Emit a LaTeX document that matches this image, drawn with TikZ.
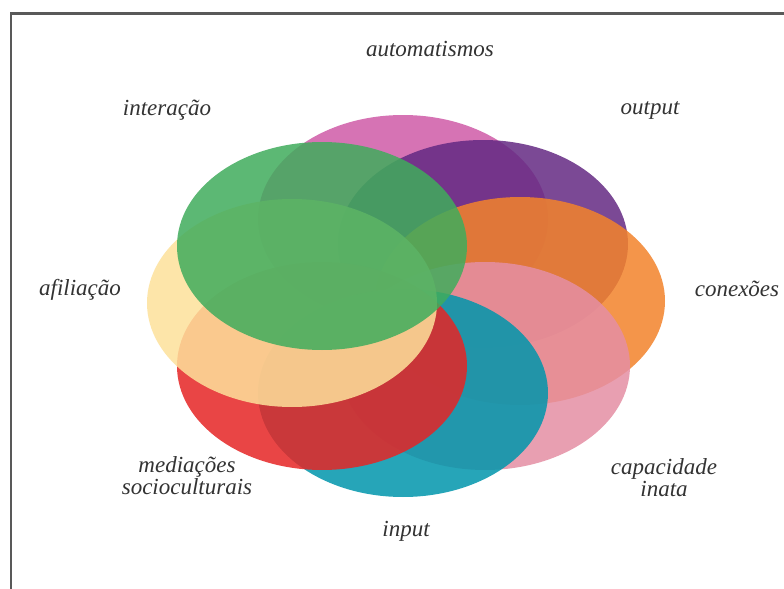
\documentclass[tikz,border=0pt]{standalone}
\usepackage{fontspec}
\setmainfont{Liberation Serif}
\usepackage{tikz}
\usepackage{color}
\usetikzlibrary{shapes.geometric}

\definecolor{cAutom}{RGB}{207,91,167}
\definecolor{cOutput}{RGB}{100,42,131}
\definecolor{cConex}{RGB}{243,131,43}
\definecolor{cCapac}{RGB}{229,143,164}
\definecolor{cInput}{RGB}{0,150,172}
\definecolor{cMediac}{RGB}{230,37,37}
\definecolor{cAfil}{RGB}{253,225,155}
\definecolor{cInter}{RGB}{64,172,92}

\begin{document}
\begin{tikzpicture}[x=0.5pt, y=-0.5pt,
		petal/.style={ellipse, inner sep=0pt, minimum width=145pt, minimum height=104pt, fill opacity=0.85},
		lbl/.style={font=\fontsize{11.5}{11}\selectfont\itshape, text=black!80, align=center}]
				\useasboundingbox (0,0) rectangle (784,589);
				\fill[white] (0,0) rectangle (784,589);
				\draw[line width=1.3pt, black!65] (11,589) -- (11,13.5) -- (784,13.5);
				\node[petal, fill=cAutom] (PAutom)at(403,219) {};
				\node[petal, fill=cOutput] (POutput)at(483,244) {};
				\node[petal, fill=cConex] (PConex)at(520,301) {};
				\node[petal, fill=cCapac] (PCapac)at(485,366) {};
				\node[petal, fill=cInput] (PInput)at(403,393) {};
				\node[petal, fill=cMediac] (PMediac)at(322,366) {};
				\node[petal, fill=cAfil] (PAfil)at(292,303) {};
				\node[petal, fill=cInter] (PInter)at(322,246) {};
				\node[lbl] (TAutom)at(430,49) {automatismos};
				\node[lbl] (TOutput)at(650,110) {output};
				\node[lbl] (TConex)at(737,289) {conexões};
				\node[lbl] (TCapac)at(664,478) {capacidade\\inata};
				\node[lbl] (TInput)at(406,531) {input};
				\node[lbl] (TMediac)at(187,476) {mediações\\socioculturais};
				\node[lbl] (TAfil)at(80,290) {afiliação};
				\node[lbl] (TInter)at(167,110) {interação};
			\end{tikzpicture}
\end{document}
